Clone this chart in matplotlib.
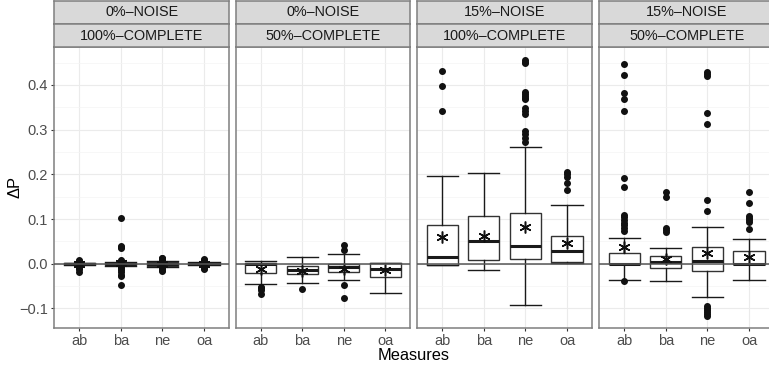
import matplotlib
matplotlib.use("Agg")
import matplotlib.pyplot as plt
from matplotlib.ticker import MultipleLocator

plt.rcParams['font.family'] = ['Liberation Sans', 'DejaVu Sans']

measures = ['ab', 'ba', 'ne', 'oa']
noise_labels = ['0%–NOISE', '0%–NOISE', '15%–NOISE', '15%–NOISE']
complete_labels = ['100%–COMPLETE', '50%–COMPLETE', '100%–COMPLETE', '50%–COMPLETE']

# Panel 1: 0% noise, 100% complete
p1_q1 = [-0.001, -0.002, -0.006, -0.001]
p1_med = [0.0, 0.0, -0.001, 0.0]
p1_q3 = [0.001, 0.002, 0.004, 0.001]
p1_lo = [-0.002, -0.005, -0.008, -0.003]
p1_hi = [0.002, 0.005, 0.006, 0.003]
p1_mean = [0.0, 0.001, -0.001, 0.0]
p1_out = [
    [0.009, 0.007, 0.005, 0.003, -0.004, -0.006, -0.009, -0.012, -0.018],
    [0.103, 0.040, 0.037, 0.035, 0.009, 0.006, 0.003, -0.007, -0.010, -0.014, -0.019, -0.024, -0.028, -0.047],
    [0.014, 0.012, 0.010, 0.008, -0.010, -0.012, -0.014, -0.016],
    [0.010, 0.008, 0.006, 0.004, -0.005, -0.008, -0.010, -0.012],
]

# Panel 2: 0% noise, 50% complete
p2_q1 = [-0.020, -0.023, -0.019, -0.030]
p2_med = [0.0, -0.013, -0.007, -0.011]
p2_q3 = [0.001, -0.004, -0.001, 0.002]
p2_lo = [-0.045, -0.043, -0.036, -0.065]
p2_hi = [0.006, 0.016, 0.022, 0.002]
p2_mean = [-0.011, -0.016, -0.011, -0.015]
p2_out = [
    [-0.052, -0.055, -0.058, -0.068],
    [-0.056],
    [0.041, 0.030, -0.047, -0.077],
    [],
]

# Panel 3: 15% noise, 100% complete
p3_q1 = [-0.002, 0.009, 0.011, 0.004]
p3_med = [0.015, 0.051, 0.040, 0.028]
p3_q3 = [0.086, 0.106, 0.113, 0.062]
p3_lo = [-0.003, -0.014, -0.092, 0.002]
p3_hi = [0.197, 0.204, 0.261, 0.131]
p3_mean = [0.060, 0.062, 0.082, 0.046]
p3_out = [
    [0.431, 0.398, 0.341],
    [],
    [0.456, 0.452, 0.449, 0.385, 0.380, 0.376, 0.372, 0.368, 0.348, 0.341, 0.335,
     0.298, 0.290, 0.281, 0.273],
    [0.206, 0.200, 0.195, 0.180, 0.165],
]

# Panel 4: 15% noise, 50% complete
p4_q1 = [-0.001, -0.009, -0.016, -0.001]
p4_med = [0.0, 0.003, 0.007, 0.0]
p4_q3 = [0.025, 0.018, 0.037, 0.028]
p4_lo = [-0.036, -0.039, -0.075, -0.036]
p4_hi = [0.058, 0.035, 0.083, 0.055]
p4_mean = [0.037, 0.010, 0.024, 0.015]
p4_out = [
    [0.448, 0.423, 0.381, 0.368, 0.341, 0.191, 0.172, 0.110, 0.104, 0.098, 0.092,
     0.086, 0.080, 0.074, -0.038],
    [0.160, 0.150, 0.080, 0.075, 0.071],
    [0.430, 0.425, 0.420, 0.338, 0.312, 0.143, 0.118, -0.095, -0.100, -0.104,
     -0.108, -0.112, -0.116],
    [0.160, 0.135, 0.108, 0.103, 0.098, 0.094, 0.078],
]

panels = [
    (p1_q1, p1_med, p1_q3, p1_lo, p1_hi, p1_mean, p1_out),
    (p2_q1, p2_med, p2_q3, p2_lo, p2_hi, p2_mean, p2_out),
    (p3_q1, p3_med, p3_q3, p3_lo, p3_hi, p3_mean, p3_out),
    (p4_q1, p4_med, p4_q3, p4_lo, p4_hi, p4_mean, p4_out),
]

W, H = 769, 366
fig = plt.figure(figsize=(W / 100, H / 100), dpi=100)

border = '#7f7f7f'
strip_fc = '#d9d9d9'
lefts = [54.3, 235.7, 417.3, 599.3]
pw = 174.7
ptop, pbot = 47.0, 327.7

def fx(px):
    return px / W

def fy(py):
    return 1 - py / H

for i, (q1, med, q3, lo, hi, mn, out) in enumerate(panels):
    ax = fig.add_axes([fx(lefts[i]), fy(pbot), pw / W, (pbot - ptop) / H])
    stats = []
    for j in range(4):
        stats.append(dict(q1=q1[j], med=med[j], q3=q3[j], whislo=lo[j], whishi=hi[j],
                          mean=mn[j], fliers=out[j]))
    pos = list(range(1, 5))
    ax.bxp(stats, positions=pos, widths=0.75, capwidths=0.75, showmeans=True,
           patch_artist=True,
           boxprops=dict(facecolor='white', edgecolor='#333333', linewidth=1.0),
           medianprops=dict(color='#1a1a1a', linewidth=2.2),
           whiskerprops=dict(color='#1a1a1a', linewidth=1.0),
           capprops=dict(color='#1a1a1a', linewidth=1.0),
           flierprops=dict(marker='o', markerfacecolor='#111111', markeredgecolor='#111111',
                           markersize=4.0, linestyle='none'),
           meanprops=dict(marker=(6, 2, 0), markeredgecolor='#111111', markerfacecolor='#111111',
                          markersize=8.5, markeredgewidth=1.1, linestyle='none'),
           manage_ticks=False, zorder=3)
    ax.axhline(0, color='#555555', linewidth=1.1, zorder=5)
    ax.set_xlim(0.4, 4.6)
    ax.set_ylim(-0.143, 0.485)
    ax.set_xticks(pos)
    ax.set_xticklabels(measures)
    ax.yaxis.set_major_locator(MultipleLocator(0.1))
    ax.yaxis.set_minor_locator(MultipleLocator(0.05))
    ax.grid(True, which='major', color='#ebebeb', linewidth=0.8, zorder=0)
    ax.grid(True, which='minor', axis='y', color='#f4f4f4', linewidth=0.5, zorder=0)
    ax.set_axisbelow(True)
    for s in ax.spines.values():
        s.set_color(border)
        s.set_linewidth(1.1)
    ax.tick_params(axis='both', which='major', length=2.5, width=0.8, color='#333333',
                   labelsize=10.5, labelcolor='#4d4d4d', pad=2)
    ax.tick_params(axis='y', which='minor', length=0)
    if i == 0:
        ax.set_yticks([-0.1, 0.0, 0.1, 0.2, 0.3, 0.4])
        ax.set_yticklabels(['−0.1', '0.0', '0.1', '0.2', '0.3', '0.4'])
    else:
        ax.tick_params(axis='y', which='both', left=False, labelleft=False)

    # strips
    for k, (lab, y0, y1) in enumerate([(noise_labels[i], 1.0, 24.0), (complete_labels[i], 24.0, 47.0)]):
        sax = fig.add_axes([fx(lefts[i]), fy(y1), pw / W, (y1 - y0) / H])
        sax.set_facecolor(strip_fc)
        sax.set_xticks([])
        sax.set_yticks([])
        for s in sax.spines.values():
            s.set_color(border)
            s.set_linewidth(1.1)
        sax.text(0.5, 0.5, lab, ha='center', va='center', fontsize=10.4, color='#1a1a1a',
                 transform=sax.transAxes)

fig.text(fx(414), fy(355), 'Measures', ha='center', va='center', fontsize=11.8)
fig.text(fx(15), fy(187), 'ΔP', ha='center', va='center', fontsize=11.8, rotation=90)

fig.savefig('out.png', dpi=100)
